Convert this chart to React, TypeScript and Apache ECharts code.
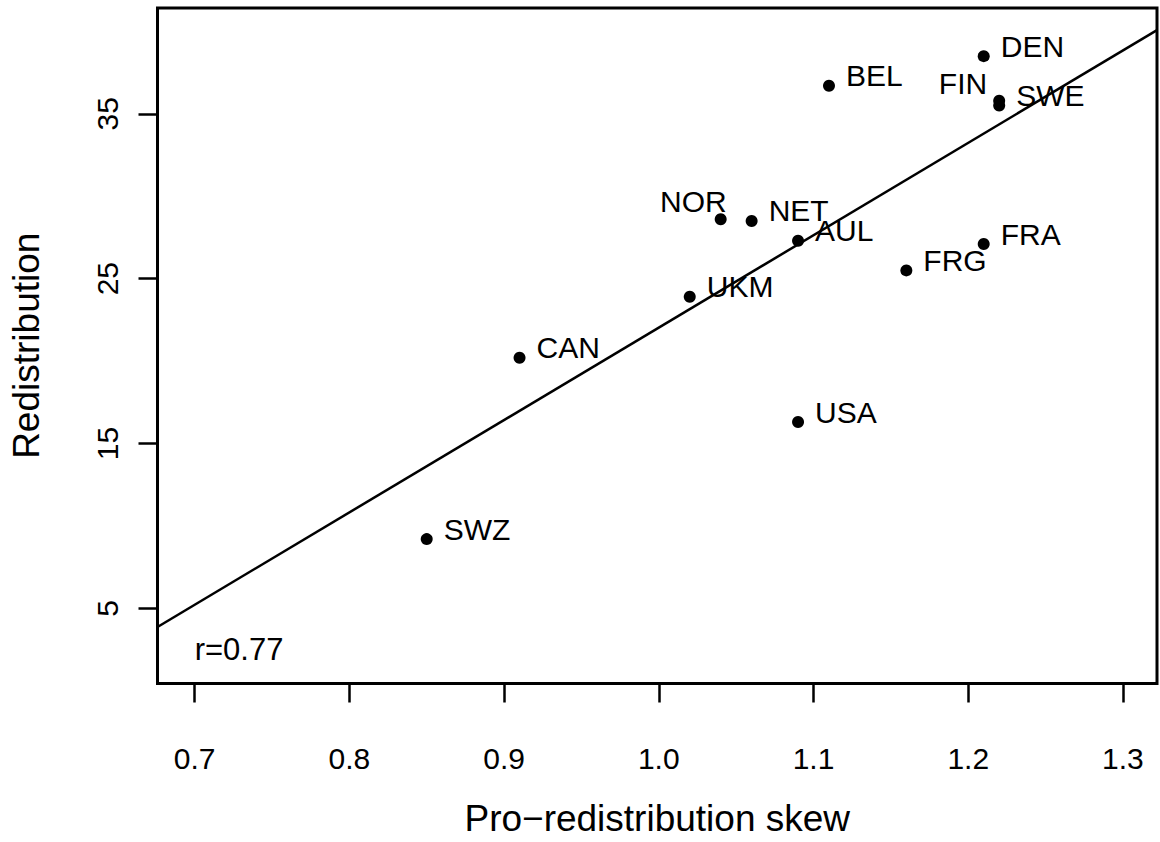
import React, { useEffect, useRef } from "react";
import * as echarts from "echarts";

const countries = ["SWZ", "CAN", "UKM", "NOR", "NET", "AUL", "USA", "BEL", "FRG", "DEN", "FRA", "FIN", "SWE"];
const skew = [0.85, 0.91, 1.02, 1.04, 1.06, 1.09, 1.09, 1.11, 1.16, 1.21, 1.21, 1.22, 1.22];
const redistribution = [9.2, 20.2, 23.9, 28.6, 28.5, 27.3, 16.3, 36.7, 25.5, 38.5, 27.1, 35.8, 35.5];
const xTicks = [0.7, 0.8, 0.9, 1.0, 1.1, 1.2, 1.3];
const yTicks = [5, 15, 25, 35];
const xRange = [0.676, 1.322];
const yRange = [0.44, 41.42];
const rLabelAt = [0.7, 2.5];

const FONT = '"Liberation Sans", Arial, Helvetica, sans-serif';

// label placement (pixel offsets relative to dot centre)
const labelLeftSide: Record<string, [number, number]> = {
  NOR: [12, -12],
  FIN: [-6, -11],
};

function ols(xs: number[], ys: number[]) {
  const n = xs.length;
  const mx = xs.reduce((a, b) => a + b, 0) / n;
  const my = ys.reduce((a, b) => a + b, 0) / n;
  let sxy = 0, sxx = 0, syy = 0;
  for (let i = 0; i < n; i++) {
    sxy += (xs[i] - mx) * (ys[i] - my);
    sxx += (xs[i] - mx) ** 2;
    syy += (ys[i] - my) ** 2;
  }
  const b = sxy / sxx;
  const a = my - b * mx;
  const r = sxy / Math.sqrt(sxx * syy);
  return { a, b, r };
}

export default function App() {
  const ref = useRef<HTMLDivElement>(null);
  useEffect(() => {
    document.body.style.margin = "0";
    if (!ref.current) return;
    const chart = echarts.init(ref.current, null, { renderer: "svg" });
    const { a, b, r } = ols(skew, redistribution);
    const lineData = [
      [xRange[0], a + b * xRange[0]],
      [xRange[1], a + b * xRange[1]],
    ];
    const pts = countries.map((c, i) => {
      const left = labelLeftSide[c];
      return {
        name: c,
        value: [skew[i], redistribution[i]],
        label: left
          ? { position: left, align: "right", verticalAlign: "middle" }
          : { position: [23, -4], align: "left", verticalAlign: "middle" },
      };
    });
    chart.setOption({
      animation: false,
      backgroundColor: "#fff",
      textStyle: { fontFamily: FONT, color: "#000" },
      grid: {
        left: 149,
        right: 3,
        top: 8,
        bottom: 151,
        show: true,
        borderColor: "#000",
        borderWidth: 3,
        containLabel: false,
      },
      xAxis: {
        type: "value",
        min: xRange[0],
        max: xRange[1],
        name: "Pro\u2212redistribution skew",
        nameLocation: "middle",
        nameGap: 135,
        nameTextStyle: { fontSize: 37, color: "#000", fontFamily: FONT, verticalAlign: "middle" },
        axisLine: { show: false },
        splitLine: { show: false },
        axisTick: {
          show: true,
          length: 19,
          lineStyle: { color: "#000", width: 2.5 },
          customValues: xTicks,
        },
        axisLabel: {
          show: true,
          margin: 60,
          fontSize: 30,
          color: "#000",
          fontFamily: FONT,
          customValues: xTicks,
          formatter: (v: number) => v.toFixed(1),
        },
      },
      yAxis: {
        type: "value",
        min: yRange[0],
        max: yRange[1],
        name: "Redistribution",
        nameLocation: "middle",
        nameGap: 131,
        nameRotate: 90,
        nameTextStyle: { fontSize: 37, color: "#000", fontFamily: FONT, verticalAlign: "middle" },
        axisLine: { show: false },
        splitLine: { show: false },
        axisTick: {
          show: true,
          length: 19,
          lineStyle: { color: "#000", width: 2.5 },
          customValues: yTicks,
        },
        axisLabel: {
          show: true,
          rotate: 90,
          margin: 35,
          fontSize: 30,
          color: "#000",
          fontFamily: FONT,
          customValues: yTicks,
          formatter: (v: number) => String(v),
        },
      },
      series: [
        {
          type: "line",
          data: lineData,
          symbol: "none",
          lineStyle: { color: "#000", width: 2.5 },
          clip: true,
          silent: true,
          z: 1,
        },
        {
          type: "scatter",
          data: pts,
          symbol: "circle",
          symbolSize: 12,
          itemStyle: { color: "#000", opacity: 1 },
          label: {
            show: true,
            formatter: (p: any) => p.name,
            fontSize: 30,
            color: "#000",
            fontFamily: FONT,
          },
          z: 3,
        },
      ],
    });
    const [px, py] = chart.convertToPixel({ gridIndex: 0 }, rLabelAt) as number[];
    chart.setOption({
      graphic: [
        {
          type: "text",
          x: px,
          y: py,
          style: {
            text: "r=" + r.toFixed(2),
            fill: "#000",
            fontSize: 31,
            fontFamily: FONT,
            textAlign: "left",
            textVerticalAlign: "middle",
          },
          z: 10,
        },
      ],
    });
    return () => chart.dispose();
  }, []);
  return <div ref={ref} style={{ width: 1160, height: 842 }} />;
}
